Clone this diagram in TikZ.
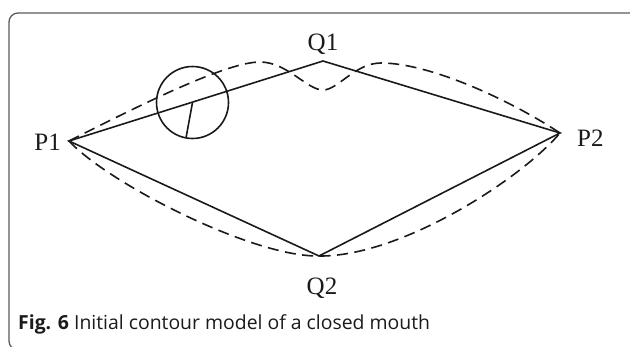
\documentclass[tikz,border=0pt]{standalone}
\usepackage{fontspec}
\setmainfont{Liberation Serif}
\newfontfamily\capfont{Open Sans}
\usetikzlibrary{positioning}
\definecolor{framegray}{HTML}{5A5A5A}
\definecolor{inkblack}{HTML}{1A1A1A}
\tikzset{
  contour/.style={inkblack, line width=1.6pt},
  initcurve/.style={inkblack, line width=1.6pt, dash pattern=on 11pt off 6.5pt},
  ptlabel/.style={inkblack, font=\fontsize{25}{25}\selectfont, inner sep=0pt},
}

\begin{document}
\begin{tikzpicture}[x=1pt,y=-1pt]
  \useasboundingbox (0,0) rectangle (630,346);
  \draw[framegray, line width=1.3pt, rounded corners=9pt] (9,13) rectangle (660,350);

  % key points of the mouth
  \coordinate (P1) at (69,141);
  \coordinate (P2) at (560,133);
  \coordinate (Q1) at (323,61);
  \coordinate (Q2) at (319,256);
  \coordinate (dip) at (323,90);
  \coordinate (hub) at (192.5,102.5);
  \coordinate (spoke) at (186,138);

  \node[ptlabel, left=8pt of P1, yshift=-1pt] (lP1) {P1};
  \node[ptlabel, right=17pt of P2, yshift=-5pt] (lP2) {P2};
  \node[ptlabel, above=6pt of Q1] (lQ1) {Q1};
  \node[ptlabel, below=22pt of Q2, xshift=3pt] (lQ2) {Q2};

  % polygon
  \draw[contour] (P1) -- (Q1) -- (P2) -- (Q2) -- cycle;

  % dashed initial contour
  \draw[initcurve] (P1) .. controls (150,100) and (228,62) .. (260,62)
    .. controls (287,62) and (307,90) .. (dip)
    .. controls (338,90) and (355,63) .. (381,63)
    .. controls (430,63) and (510,100) .. (P2);
  \draw[initcurve] (P1) .. controls (108,183) and (252,257) .. (Q2)
    .. controls (400,257) and (520,180) .. (P2);

  % window on the upper lip
  \draw[contour] (hub) circle (36pt);
  \draw[contour] (hub) -- (spoke);

  \node[anchor=base west, inner sep=0pt, inkblack, font=\capfont\fontsize{19.4}{19.4}\selectfont] (cap) at (18,329)
    {\textbf{Fig. 6} Initial contour model of a closed mouth};
\end{tikzpicture}
\end{document}
